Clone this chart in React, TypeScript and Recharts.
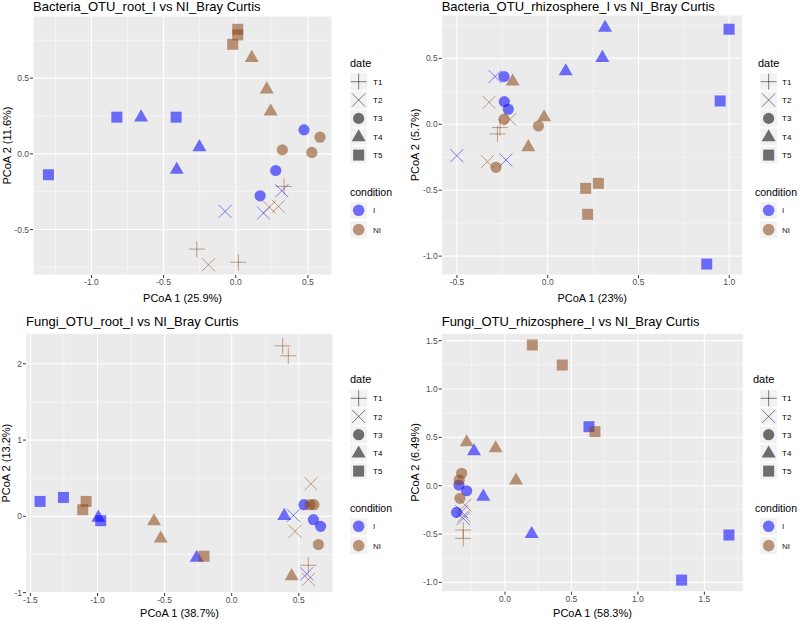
import React from 'react';
import { ScatterChart, Scatter, XAxis, YAxis, CartesianGrid, ReferenceLine } from 'recharts';

type Pt = [number, number];

const DATES = ['T1', 'T2', 'T3', 'T4', 'T5'];
const CONDITIONS = ['I', 'NI'];

// ---- Bacteria_OTU_root ----
const BR_I_T1: Pt[] = [];
const BR_I_T2: Pt[] = [[-0.074, -0.38], [0.192, -0.391], [0.319, -0.244]];
const BR_I_T3: Pt[] = [[0.473, 0.158], [0.277, -0.11], [0.169, -0.277]];
const BR_I_T4: Pt[] = [[-0.656, 0.244], [-0.252, 0.048], [-0.409, -0.101]];
const BR_I_T5: Pt[] = [[-1.298, -0.138], [-0.824, 0.242], [-0.413, 0.242]];
const BR_NI_T1: Pt[] = [[-0.27, -0.629], [0.018, -0.716], [0.335, -0.215]];
const BR_NI_T2: Pt[] = [[-0.189, -0.732], [0.233, -0.352], [0.296, -0.347]];
const BR_NI_T3: Pt[] = [[0.323, 0.026], [0.527, 0.009], [0.584, 0.11]];
const BR_NI_T4: Pt[] = [[0.111, 0.637], [0.215, 0.429], [0.242, 0.284]];
const BR_NI_T5: Pt[] = [[-0.021, 0.723], [0.014, 0.822], [0.014, 0.785]];

// ---- Bacteria_OTU_rhizosphere ----
const BZ_I_T1: Pt[] = [];
const BZ_I_T2: Pt[] = [[-0.29, 0.362], [-0.501, -0.238], [-0.23, -0.271]];
const BZ_I_T3: Pt[] = [[-0.241, 0.362], [-0.239, 0.172], [-0.217, 0.114]];
const BZ_I_T4: Pt[] = [[0.316, 0.736], [0.301, 0.508], [0.099, 0.407]];
const BZ_I_T5: Pt[] = [[0.999, 0.721], [0.95, 0.177], [0.876, -1.06]];
const BZ_NI_T1: Pt[] = [[-0.263, -0.025], [-0.277, -0.073]];
const BZ_NI_T2: Pt[] = [[-0.323, 0.167], [-0.208, 0.038], [-0.332, -0.283]];
const BZ_NI_T3: Pt[] = [[-0.241, 0.038], [-0.051, -0.013], [-0.285, -0.326]];
const BZ_NI_T4: Pt[] = [[-0.193, 0.329], [-0.02, 0.058], [-0.107, -0.169]];
const BZ_NI_T5: Pt[] = [[0.209, -0.486], [0.279, -0.448], [0.22, -0.683]];

// ---- Fungi_OTU_root ----
const FR_I_T1: Pt[] = [];
const FR_I_T2: Pt[] = [[0.46, 0.013], [0.559, -0.754]];
const FR_I_T3: Pt[] = [[0.539, 0.153], [0.609, -0.044], [0.663, -0.131]];
const FR_I_T4: Pt[] = [[-0.994, -0.01], [0.392, 0.013], [-0.261, -0.536]];
const FR_I_T5: Pt[] = [[-1.428, 0.196], [-1.254, 0.248], [-0.976, -0.057]];
const FR_NI_T1: Pt[] = [[0.38, 2.235], [0.422, 2.105], [0.571, -0.641]];
const FR_NI_T2: Pt[] = [[0.591, 0.427], [0.472, -0.196], [0.571, -0.828]];
const FR_NI_T3: Pt[] = [[0.584, 0.153], [0.613, 0.153], [0.646, -0.37]];
const FR_NI_T4: Pt[] = [[-0.579, -0.057], [-0.529, -0.283], [0.447, -0.776]];
const FR_NI_T5: Pt[] = [[-1.085, 0.196], [-1.11, 0.087], [-0.206, -0.523]];

// ---- Fungi_OTU_rhizosphere ----
const FZ_I_T1: Pt[] = [];
const FZ_I_T2: Pt[] = [[-0.326, -0.269], [-0.314, -0.338]];
const FZ_I_T3: Pt[] = [[-0.346, 0.007], [-0.288, -0.052], [-0.364, -0.276]];
const FZ_I_T4: Pt[] = [[-0.233, 0.362], [-0.163, -0.107], [0.201, -0.493]];
const FZ_I_T5: Pt[] = [[0.632, 0.61], [1.685, -0.51], [1.329, -0.976]];
const FZ_NI_T1: Pt[] = [[-0.314, -0.459], [-0.314, -0.545]];
const FZ_NI_T2: Pt[] = [[-0.3, -0.2], [-0.31, -0.31]];
const FZ_NI_T3: Pt[] = [[-0.326, 0.128], [-0.344, 0.059], [-0.339, -0.131]];
const FZ_NI_T4: Pt[] = [[-0.288, 0.455], [-0.07, 0.393], [0.083, 0.059]];
const FZ_NI_T5: Pt[] = [[0.206, 1.455], [0.431, 1.248], [0.677, 0.559]];

const TITLES = [
  'Bacteria_OTU_root_I vs NI_Bray Curtis',
  'Bacteria_OTU_rhizosphere_I vs NI_Bray Curtis',
  'Fungi_OTU_root_I vs NI_Bray Curtis',
  'Fungi_OTU_rhizosphere_I vs NI_Bray Curtis',
];
const X_LABELS = ['PCoA 1 (25.9%)', 'PCoA 1 (23%)', 'PCoA 1 (38.7%)', 'PCoA 1 (58.3%)'];
const Y_LABELS = ['PCoA 2 (11.6%)', 'PCoA 2 (5.7%)', 'PCoA 2 (13.2%)', 'PCoA 2 (6.49%)'];

const X_TICKS = [[-1, -0.5, 0, 0.5], [-0.5, 0, 0.5, 1], [-1.5, -1, -0.5, 0, 0.5], [0, 0.5, 1, 1.5]];
const Y_TICKS = [[-0.5, 0, 0.5], [-1, -0.5, 0, 0.5], [-1, 0, 1, 2], [-1, -0.5, 0, 0.5, 1, 1.5]];
const X_MINOR = [[-1.25, -0.75, -0.25, 0.25], [-0.25, 0.25, 0.75], [-1.25, -0.75, -0.25, 0.25], [-0.25, 0.25, 0.75, 1.25, 1.75]];
const Y_MINOR = [[-0.75, -0.25, 0.25, 0.75], [-0.75, -0.25, 0.25, 0.75], [-0.5, 0.5, 1.5], [-0.75, -0.25, 0.25, 0.75, 1.25]];

const SERIES: Record<string, Pt[]>[] = [
  { I_T1: BR_I_T1, I_T2: BR_I_T2, I_T3: BR_I_T3, I_T4: BR_I_T4, I_T5: BR_I_T5, NI_T1: BR_NI_T1, NI_T2: BR_NI_T2, NI_T3: BR_NI_T3, NI_T4: BR_NI_T4, NI_T5: BR_NI_T5 },
  { I_T1: BZ_I_T1, I_T2: BZ_I_T2, I_T3: BZ_I_T3, I_T4: BZ_I_T4, I_T5: BZ_I_T5, NI_T1: BZ_NI_T1, NI_T2: BZ_NI_T2, NI_T3: BZ_NI_T3, NI_T4: BZ_NI_T4, NI_T5: BZ_NI_T5 },
  { I_T1: FR_I_T1, I_T2: FR_I_T2, I_T3: FR_I_T3, I_T4: FR_I_T4, I_T5: FR_I_T5, NI_T1: FR_NI_T1, NI_T2: FR_NI_T2, NI_T3: FR_NI_T3, NI_T4: FR_NI_T4, NI_T5: FR_NI_T5 },
  { I_T1: FZ_I_T1, I_T2: FZ_I_T2, I_T3: FZ_I_T3, I_T4: FZ_I_T4, I_T5: FZ_I_T5, NI_T1: FZ_NI_T1, NI_T2: FZ_NI_T2, NI_T3: FZ_NI_T3, NI_T4: FZ_NI_T4, NI_T5: FZ_NI_T5 },
];

const COLORS: Record<string, string> = { I: '#0000FF', NI: '#8B4513' };
const ALPHA = 0.55;

// layout (page pixels)
const LAYOUT = [
  { L: 0, T: 0, x0: 33, x1: 332, y0: 16, y1: 275, xd: [-1.405, 0.667], yd: [-0.8, 0.91], xlo: 9, ylo: 7, yfmt: 1 },
  { L: 400, T: 0, x0: 441.7, x1: 742.7, y0: 15, y1: 275, xd: [-0.584, 1.074], yd: [-1.143, 0.829], xlo: 9, ylo: 15, yfmt: 1 },
  { L: 0, T: 305, x0: 26, x1: 333, y0: 333.3, y1: 593, xd: [-1.533, 0.755], yd: [-1.005, 2.4], xlo: 12.5, ylo: 6, yfmt: 0 },
  { L: 400, T: 305, x0: 441.7, x1: 743.3, y0: 333.3, y1: 591.7, xd: [-0.476, 1.793], yd: [-1.096, 1.576], xlo: 11, ylo: 15, yfmt: 1 },
];

const LEGENDS = [
  { titleX: 350, keyX: 350, labelX: 373, dateY: 63.3, rowY: 81.7, step: 18.35, condX: 350, condY: 191.7, condRowY: 210.3 },
  { titleX: 758, keyX: 760, labelX: 782, dateY: 63.3, rowY: 81.7, step: 18.35, condX: 755, condY: 191.7, condRowY: 210.3 },
  { titleX: 350, keyX: 350, labelX: 373, dateY: 379, rowY: 398.3, step: 18.2, condX: 350, condY: 507.7, condRowY: 526.3 },
  { titleX: 753, keyX: 760, labelX: 782, dateY: 379, rowY: 398.3, step: 18.2, condX: 755, condY: 507.7, condRowY: 526.3 },
];

function symbol(date: string, cx: number, cy: number, color: string, opacity: number, key?: string) {
  switch (date) {
    case 'T1':
      return (
        <g key={key} stroke={color} strokeOpacity={opacity} strokeWidth={0.9}>
          <line x1={cx - 8} y1={cy} x2={cx + 8} y2={cy} />
          <line x1={cx} y1={cy - 8} x2={cx} y2={cy + 8} />
        </g>
      );
    case 'T2':
      return (
        <g key={key} stroke={color} strokeOpacity={opacity} strokeWidth={0.9}>
          <line x1={cx - 6.5} y1={cy - 6.5} x2={cx + 6.5} y2={cy + 6.5} />
          <line x1={cx - 6.5} y1={cy + 6.5} x2={cx + 6.5} y2={cy - 6.5} />
        </g>
      );
    case 'T3':
      return <circle key={key} cx={cx} cy={cy} r={5.6} fill={color} fillOpacity={opacity} />;
    case 'T4':
      return (
        <polygon
          key={key}
          points={`${cx},${cy - 7.5} ${cx - 7},${cy + 4.6} ${cx + 7},${cy + 4.6}`}
          fill={color}
          fillOpacity={opacity}
        />
      );
    default:
      return <rect key={key} x={cx - 5.5} y={cy - 5.5} width={11} height={11} fill={color} fillOpacity={opacity} />;
  }
}

function makeShape(date: string, color: string) {
  return (props: any) => {
    const { cx, cy } = props;
    if (cx == null || cy == null) return <g />;
    return symbol(date, cx, cy, color, ALPHA);
  };
}

function Panel({ idx }: { idx: number }) {
  const lay = LAYOUT[idx];
  const W = lay.x1 - lay.L + 4;
  const H = lay.y1 - lay.T + 36;
  const tickStyle = { fontSize: 8.5, fill: '#4D4D4D' };
  const xf = (v: number) => v.toFixed(1);
  const yf = (v: number) => v.toFixed(lay.yfmt);
  const series = SERIES[idx];
  return (
    <div style={{ position: 'absolute', left: lay.L, top: lay.T }}>
      <ScatterChart width={W} height={H} margin={{ top: lay.y0 - lay.T, right: 4, bottom: 0, left: 0 }}>
        <CartesianGrid fill="#EBEBEB" stroke="#FFFFFF" strokeWidth={1.1} />
        {X_MINOR[idx].map((v) => (
          <ReferenceLine key={'xm' + v} x={v} stroke="#FFFFFF" strokeWidth={0.5} strokeOpacity={0.9} />
        ))}
        {Y_MINOR[idx].map((v) => (
          <ReferenceLine key={'ym' + v} y={v} stroke="#FFFFFF" strokeWidth={0.5} strokeOpacity={0.9} />
        ))}
        <XAxis
          type="number"
          dataKey="x"
          domain={lay.xd}
          allowDataOverflow
          ticks={X_TICKS[idx]}
          interval={0}
          height={36}
          axisLine={false}
          tickLine={{ stroke: '#333333' }}
          tickSize={3}
          tickMargin={1}
          tick={tickStyle}
          tickFormatter={xf}
          label={{ value: X_LABELS[idx], position: 'insideBottom', offset: lay.xlo, style: { fontSize: 11, fill: '#000' } }}
        />
        <YAxis
          type="number"
          dataKey="y"
          domain={lay.yd}
          allowDataOverflow
          ticks={Y_TICKS[idx]}
          interval={0}
          width={lay.x0 - lay.L}
          axisLine={false}
          tickLine={{ stroke: '#333333' }}
          tickSize={3}
          tickMargin={1}
          tick={tickStyle}
          tickFormatter={yf}
          label={{
            value: Y_LABELS[idx],
            angle: -90,
            position: 'insideLeft',
            offset: lay.ylo,
            style: { fontSize: 11, fill: '#000', textAnchor: 'middle' },
          }}
        />
        {CONDITIONS.map((c) =>
          DATES.map((d) => (
            <Scatter
              key={c + d}
              data={series[c + '_' + d].map(([x, y]) => ({ x, y }))}
              shape={makeShape(d, COLORS[c])}
              isAnimationActive={false}
            />
          ))
        )}
      </ScatterChart>
    </div>
  );
}

function Overlay() {
  const titlePos = [
    { x: 33, y: 10.5 },
    { x: 441.7, y: 10.5 },
    { x: 26, y: 326.2 },
    { x: 441.7, y: 326.2 },
  ];
  return (
    <svg width={800} height={621} style={{ position: 'absolute', left: 0, top: 0, pointerEvents: 'none' }}>
      {TITLES.map((t, i) => (
        <text key={t} x={titlePos[i].x} y={titlePos[i].y} fontSize={13} fill="#000">
          {t}
        </text>
      ))}
      {LEGENDS.map((lg, i) => (
        <g key={'lg' + i}>
          <text x={lg.titleX} y={lg.dateY + 4} fontSize={11} fill="#000">date</text>
          {DATES.map((d, k) => {
            const cy = lg.rowY + k * lg.step;
            return (
              <g key={d}>
                <rect x={lg.keyX} y={cy - 8.6} width={17.3} height={17.3} fill="#F2F2F2" stroke="#FFFFFF" strokeWidth={0.5} />
                {symbol(d, lg.keyX + 8.65, cy, '#000000', 0.55)}
                <text x={lg.labelX} y={cy + 3} fontSize={8} fill="#000">{d}</text>
              </g>
            );
          })}
          <text x={lg.condX} y={lg.condY + 4} fontSize={10.5} fill="#000">condition</text>
          {CONDITIONS.map((c, k) => {
            const cy = lg.condRowY + k * 19.3;
            return (
              <g key={c}>
                <rect x={lg.keyX} y={cy - 8.6} width={17.3} height={17.3} fill="#F2F2F2" stroke="#FFFFFF" strokeWidth={0.5} />
                <circle cx={lg.keyX + 8.65} cy={cy} r={5.8} fill={COLORS[c]} fillOpacity={ALPHA} />
                <text x={lg.labelX} y={cy + 3} fontSize={8} fill="#222">{c}</text>
              </g>
            );
          })}
        </g>
      ))}
    </svg>
  );
}

export default function App() {
  return (
    <div
      style={{
        position: 'absolute',
        left: 0,
        top: 0,
        width: 800,
        height: 621,
        overflow: 'hidden',
        background: '#FFFFFF',
        fontFamily: '"Liberation Sans", Arial, sans-serif',
      }}
    >
      {[0, 1, 2, 3].map((i) => (
        <Panel key={i} idx={i} />
      ))}
      <Overlay />
    </div>
  );
}
